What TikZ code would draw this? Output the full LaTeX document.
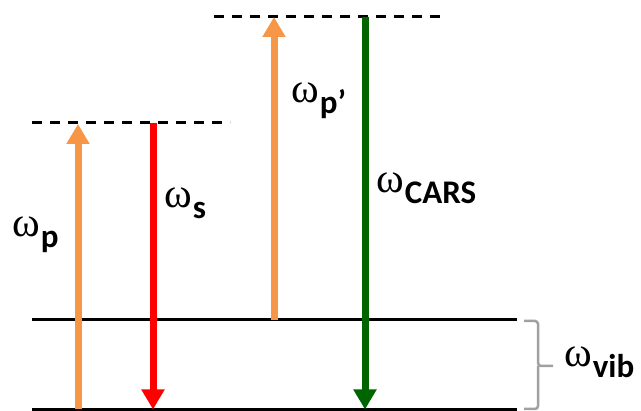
\documentclass[tikz,border=0pt]{standalone}
\usepackage{fontspec}
\usepackage{tikz}
\usetikzlibrary{arrows.meta}
\newfontfamily\omfont{Liberation Serif}
\newfontfamily\subfont{Carlito}
\definecolor{pumporange}{RGB}{247,150,70}
\definecolor{stokesred}{RGB}{255,0,0}
\definecolor{carsgreen}{RGB}{0,100,0}
\definecolor{bracegray}{RGB}{160,160,160}
\newcommand{\freq}[1]{{\omfont\fontsize{42}{42}\selectfont ω}\kern1pt\raisebox{-11pt}{\subfont\bfseries\fontsize{33}{33}\selectfont #1}}

\begin{document}
\begin{tikzpicture}[
  x=1pt, y=-1pt,
  level/.style={line width=3pt},
  virtual/.style={line width=3pt, dash pattern=on 10pt off 8pt},
  beam/.style={line width=7pt, -{Triangle[width=22pt,length=20pt]}},
  freqlabel/.style={anchor=base west, inner sep=0pt},
  bracket/.style={draw=bracegray, line width=2.5pt, rounded corners=3pt}
]
\useasboundingbox (0,0) rectangle (641,411);
% levels
\coordinate (g0w) at (32,409.5);
\coordinate (g0e) at (517,409.5);
\coordinate (g1w) at (32,320);
\coordinate (g1e) at (517,320);
\coordinate (v1w) at (32,123);
\coordinate (v1e) at (230,123);
\coordinate (v2w) at (214,17);
\coordinate (v2e) at (442,17);
\draw[level] (g0w) -- (g0e);
\draw[level] (g1w) -- (g1e);
\draw[virtual] (v1w) -- (v1e);
\draw[virtual] (v2w) -- (v2e);
% beams
\coordinate (pump0) at (78,409.5);
\coordinate (pump1) at (78,124);
\coordinate (stokes0) at (153,123);
\coordinate (stokes1) at (153,409.5);
\coordinate (probe0) at (274,320);
\coordinate (probe1) at (274,17);
\coordinate (cars0) at (365,17);
\coordinate (cars1) at (365,409.5);
\draw[beam, pumporange] (pump0) -- (pump1);
\draw[beam, stokesred] (stokes0) -- (stokes1);
\draw[beam, pumporange] (probe0) -- (probe1);
\draw[beam, carsgreen] (cars0) -- (cars1);
% vibrational gap
\coordinate (brtop) at (524,321);
\coordinate (brbot) at (524,409);
\coordinate (brtip) at (553,366);
\draw[bracket] (brtop) -- (538,321) -- (538,366) -- (brtip);
\draw[bracket] (538,366) -- (538,409) -- (brbot);
% labels
\node[freqlabel] (lpump) at (12,237) {\freq{p}};
\node[freqlabel] (lstokes) at (164,208) {\freq{s}};
\node[freqlabel] (lprobe) at (291,103) {\freq{p’}};
\node[freqlabel] (lcars) at (376,193) {\freq{CARS}};
\node[freqlabel] (lvib) at (564,367) {\freq{vib}};
\end{tikzpicture}
\end{document}
